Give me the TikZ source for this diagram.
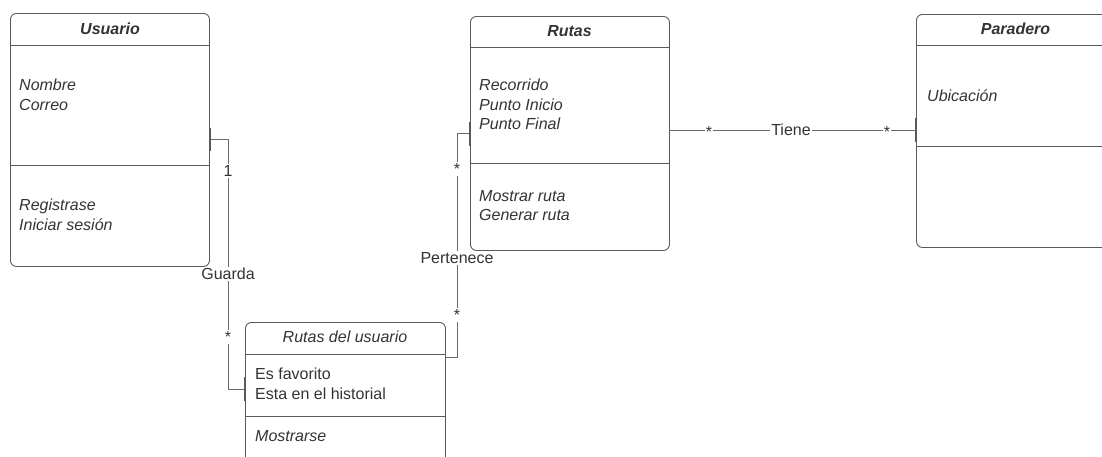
\documentclass[tikz,border=0pt]{standalone}
\usepackage{fontspec}
\setmainfont{Liberation Sans}
\definecolor{edge}{HTML}{5A5A5A}
\definecolor{ink}{HTML}{333333}
\definecolor{wire}{HTML}{6A6A6A}
\begin{document}
\begin{tikzpicture}[x=1pt,y=-1pt,
  classbox/.style={draw=edge,line width=0.9pt,rounded corners=6pt,inner sep=0pt,anchor=north west},
  sep/.style={draw=edge,line width=0.9pt},
  txt/.style={text=ink,font=\fontsize{16}{19.5}\selectfont,inner sep=0pt,anchor=north west,align=left},
  itxt/.style={txt,font=\fontsize{16}{19.5}\selectfont\itshape},
  ttl/.style={text=ink,font=\fontsize{16}{19.5}\selectfont\bfseries\itshape,inner sep=0pt},
  wirestyle/.style={draw=wire,line width=0.8pt},
  tick/.style={draw=edge,line width=1.6pt},
  lbl/.style={text=ink,font=\fontsize{16}{19.5}\selectfont,fill=white,inner sep=1.5pt},
  star/.style={text=ink,font=\fontsize{16}{18}\selectfont,fill=white,inner sep=1.5pt}]
\clip (0,0) rectangle (1102,456);
\useasboundingbox (0,0) rectangle (1102,456);

% Usuario
\node[classbox,minimum width=199pt,minimum height=253pt] (usr) at (10,13) {};
\draw[sep] (usr.west |- 0,45) -- (usr.east |- 0,45);
\draw[sep] (usr.west |- 0,165) -- (usr.east |- 0,165);
\node[ttl] (usrT) at (110,29) {Usuario};
\node[itxt] (usrA) at (19,79) {Nombre\\Correo};
\node[itxt] (usrM) at (19,199) {Registrase\\Iniciar sesión};

% Rutas
\node[classbox,minimum width=199pt,minimum height=234pt] (rut) at (470,16) {};
\draw[sep] (rut.west |- 0,47) -- (rut.east |- 0,47);
\draw[sep] (rut.west |- 0,163) -- (rut.east |- 0,163);
\node[ttl] (rutT) at (569.5,31) {Rutas};
\node[itxt] (rutA) at (479,79) {Recorrido\\Punto Inicio\\Punto Final};
\node[itxt] (rutM) at (479,190) {Mostrar ruta\\Generar ruta};

% Paradero
\node[classbox,minimum width=199pt,minimum height=233pt] (par) at (916,14) {};
\draw[sep] (par.west |- 0,45) -- (par.east |- 0,45);
\draw[sep] (par.west |- 0,146) -- (par.east |- 0,146);
\node[ttl] (parT) at (1015.5,29) {Paradero};
\node[itxt] (parA) at (927,90) {Ubicación};

% Rutas del usuario
\node[classbox,minimum width=200pt,minimum height=150pt] (rdu) at (245,322) {};
\draw[sep] (rdu.west |- 0,354) -- (rdu.east |- 0,354);
\draw[sep] (rdu.west |- 0,416) -- (rdu.east |- 0,416);
\node[text=ink,font=\fontsize{16}{19.5}\selectfont\itshape,inner sep=0pt] (rduT) at (345,337) {Rutas del usuario};
\node[txt] (rduA) at (255,368) {Es favorito\\Esta en el historial};
\node[itxt] (rduM) at (255,430) {Mostrarse};

% Guarda: Usuario 1 -- * Rutas del usuario
\coordinate (g1) at (228,139);
\coordinate (g2) at (228,389);
\draw[wirestyle] (usr.east |- g1) -- (g1) -- (g2) -- (rdu.west |- g2);
\draw[tick] (usr.east |- 0,128) -- (usr.east |- 0,151);
\draw[tick] (rdu.west |- 0,377) -- (rdu.west |- 0,401);
\node[lbl] (gOne) at (228,171) {1};
\node[lbl] (gName) at (228,274) {Guarda};
\node[star] (gMany) at (228,337) {*};

% Pertenece: Rutas del usuario * -- * Rutas
\coordinate (p1) at (457,357);
\coordinate (p2) at (457,133);
\draw[wirestyle] (rdu.east |- p1) -- (p1) -- (p2) -- (rut.west |- p2);
\draw[tick] (rut.west |- 0,122) -- (rut.west |- 0,146);
\node[star] (pTop) at (457,169) {*};
\node[lbl] (pName) at (457,258) {Pertenece};
\node[star] (pBot) at (457,315) {*};

% Tiene: Rutas * -- * Paradero
\draw[wirestyle] (rut.east |- 0,130) -- (par.west |- 0,130);
\draw[tick] (par.west |- 0,118) -- (par.west |- 0,142);
\node[star,inner sep=1pt] (tA) at (709,132) {*};
\node[lbl,inner sep=1pt] (tName) at (791,130) {Tiene};
\node[star,inner sep=1pt] (tB) at (887,132) {*};
\end{tikzpicture}
\end{document}
